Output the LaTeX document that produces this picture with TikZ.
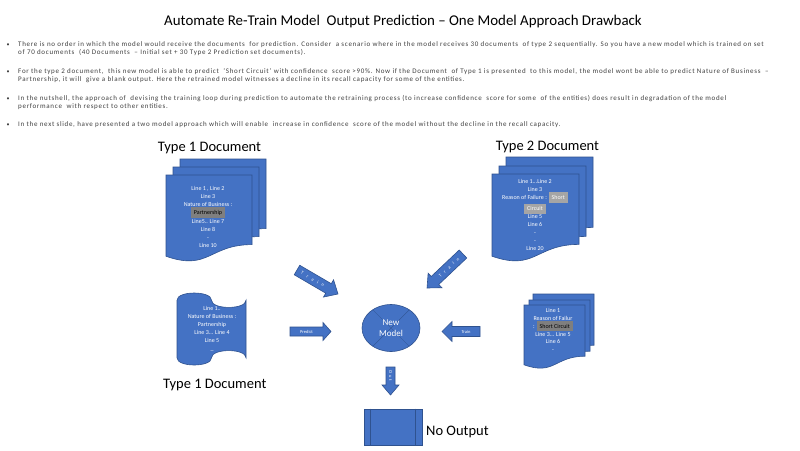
\documentclass[tikz,border=0pt]{standalone}
\usepackage{fontspec}
\setmainfont{Carlito}
\newfontfamily\bulfont[LetterSpace=10.0]{Carlito}
\newfontfamily\spacedfont[LetterSpace=45.0]{Carlito}
\newfontfamily\widefont[LetterSpace=95.0]{Carlito}
\usetikzlibrary{shapes.geometric,calc}
\definecolor{blu}{HTML}{4472C4}
\definecolor{blubord}{HTML}{2F528F}
\definecolor{txtgray}{HTML}{404040}
\definecolor{hlgray}{HTML}{A5A5A5}
\definecolor{hldark}{HTML}{7F7F7F}
\newcommand\docpage[4]{%
 \pgfmathsetmacro\dpXr{#1+#3}\pgfmathsetmacro\dpXm{#1+0.5*#3}%
 \pgfmathsetmacro\dpYr{#2+0.8*#4}\pgfmathsetmacro\dpYc{#2+1.107*#4}\pgfmathsetmacro\dpYl{#2+0.934*#4}%
 \filldraw[page] (#1,#2) -- (\dpXr,#2) -- (\dpXr,\dpYr) .. controls (\dpXm,\dpYr) and (\dpXm,\dpYc) .. (#1,\dpYl) -- cycle;}
\newcommand\tapeshape[4]{%
 \pgfmathsetmacro\tsXr{#1+#3}\pgfmathsetmacro\tsXm{#1+0.5*#3}%
 \pgfmathsetmacro\tsYt{#2+0.1*#4}\pgfmathsetmacro\tsYtu{#2+0.1*#4-0.1333*#4}\pgfmathsetmacro\tsYtd{#2+0.1*#4+0.1333*#4}%
 \pgfmathsetmacro\tsYb{#2+0.9*#4}\pgfmathsetmacro\tsYbu{#2+0.9*#4-0.1333*#4}\pgfmathsetmacro\tsYbd{#2+0.9*#4+0.1333*#4}%
 \filldraw[page] (#1,\tsYt) .. controls (#1,\tsYtu) and (\tsXm,\tsYtu) .. (\tsXm,\tsYt)
   .. controls (\tsXm,\tsYtd) and (\tsXr,\tsYtd) .. (\tsXr,\tsYt) -- (\tsXr,\tsYb)
   .. controls (\tsXr,\tsYbu) and (\tsXm,\tsYbu) .. (\tsXm,\tsYb)
   .. controls (\tsXm,\tsYbd) and (#1,\tsYbd) .. (#1,\tsYb) -- cycle;}
\newcommand\blkarrow[9]{% name, cx, cy, angle, length, shaft half, head half, head length, text
 \pgfmathsetmacro\baA{#5/2}\pgfmathsetmacro\baB{#5/2-#8}\pgfmathsetmacro\baT{-#8/2}%
 \pgfmathparse{((#4>90)&&(#4<270))?(#4-180):(#4)}\let\baR\pgfmathresult
 \begin{scope}[shift={(#2,#3)}, rotate=#4]
  \filldraw[page] (-\baA,-#6) -- (\baB,-#6) -- (\baB,-#7) -- (\baA,0) -- (\baB,#7) -- (\baB,#6) -- (-\baA,#6) -- cycle;
  \node[arrowtext, rotate=\baR] (#1) at (\baT,0) {#9};
 \end{scope}}
\begin{document}
\begin{tikzpicture}[x=1pt,y=-1pt,
  page/.style={fill=blu, draw=blubord, line width=0.6pt},
  doctext/.style={text=white, align=center, font=\fontsize{6}{7.9}\selectfont, inner sep=0},
  arrowtext/.style={text=white, font=\fontsize{4.5}{5}\selectfont, inner sep=0},
  biglabel/.style={font=\fontsize{14.5}{16}\selectfont, text=black, inner sep=0},
  bulline/.style={anchor=west, font=\bulfont\fontsize{7}{8}\selectfont, text=txtgray, inner sep=0},
  buldot/.style={font=\fontsize{6}{8}\selectfont, text=txtgray, inner sep=0}]
\fill[white] (0,0) rectangle (800,450);
\useasboundingbox (0,0) rectangle (800,450);
% title
\node[font=\fontsize{14.9}{16}\selectfont, text=black, inner sep=0] (title) at (403,22) {Automate Re-Train Model\ \ Output Prediction -- One Model Approach Drawback};
% bullets
\node[buldot] (b1) at (8,45) {•};
\node[bulline] (l1) at (18,45) {There is no order in which the model would receive the documents\ \ for prediction. Consider\ \ a scenario where in the model receives 30 documents\ \ of type 2 sequentially. So you have a new model which is trained on set};
\node[bulline] (l2) at (18,53) {of 70 documents\ \ (40 Documents\ \ – Initial set + 30 Type 2 Prediction set documents).};
\node[buldot] (b2) at (8,72) {•};
\node[bulline] (l3) at (18,72) {For the type 2 document,\ \ this new model is able to predict\ \ ‘Short Circuit’ with confidence\ \ score >90\%. Now if the Document\ \ of Type 1 is presented\ \ to this model, the model wont be able to predict Nature of Business\ \ –};
\node[bulline] (l4) at (18,80) {Partnership, it will\ \ give a blank output. Here the retrained model witnesses a decline in its recall capacity for some of the entities.};
\node[buldot] (b3) at (8,99) {•};
\node[bulline] (l5) at (18,99) {In the nutshell, the approach of\ \ devising the training loop during prediction to automate the retraining process (to increase confidence\ \ score for some\ \ of the entities) does result in degradation of the model};
\node[bulline] (l6) at (18,107) {performance\ \ with respect to other entities.};
\node[buldot] (b4) at (8,125) {•};
\node[bulline] (l7) at (18,125) {In the next slide, have presented a two model approach which will enable\ \ increase in confidence\ \ score of the model without the decline in the recall capacity.};
% Type 1 stack
\node[biglabel] (t1lab) at (209.5,148) {Type 1 Document};
\docpage{180}{159}{86}{87}
\docpage{173}{167}{86}{87}
\docpage{166}{175}{86}{87}
\node[doctext] (t1txt) at (208,217) {Line 1 , Line 2\\Line 3\\Nature of Business :\\\colorbox{hldark}{\color{black}Partnership}\\Line5.. Line 7\\Line 8\\-\\Line 10};
% Type 2 stack
\node[biglabel] (t2lab) at (547.5,147) {Type 2 Document};
\docpage{506}{157}{87}{88}
\docpage{499}{166}{87}{88}
\docpage{492}{174}{87}{88}
\node[doctext] (t2txt) at (535,215) {Line 1...Line 2\\Line 3\\Reason of Failure : \colorbox{hlgray}{Short}\\\colorbox{hlgray}{Circuit}\\Line 5\\Line 6\\-\\-\\Line 20};
% lower left tape document
\tapeshape{177}{293}{69}{72}
\node[doctext] (tapetxt) at (212,329) {Line 1..\\Nature of Business :\\Partnership\\Line 3... Line 4\\Line 5\\\_};
\node[biglabel, anchor=west] (t1lab2) at (163,385) {Type 1 Document};
% lower right stack
\docpage{533}{294}{61}{64}
\docpage{529}{300}{61}{64}
\docpage{524}{305}{61}{64}
\node[doctext] (t3txt) at (553,330) {Line 1\\Reason of Failur\\: \colorbox{hldark}{\color{black}Short Circuit}\\Line 3... Line 5\\Line 6\\-};
% model
\node[ellipse, fill=blu, draw=blubord, line width=0.6pt, minimum width=58, minimum height=47, inner sep=0] (model) at (391,328) {};
\draw[blubord, line width=0.35pt] (model.135) -- (model.-45) (model.45) -- (model.-135);
\node[text=white, align=center, font=\fontsize{9}{11}\selectfont, inner sep=0] (modeltxt) at (model.center) {New\\Model};
% block arrows
\blkarrow{predict}{310.5}{331.5}{0}{41}{4.5}{9}{8}{Predict}
\blkarrow{trainr}{461}{331.5}{180}{38}{5}{10}{10}{Train}
\blkarrow{trainl}{317.5}{282}{-30.3}{47.5}{5.5}{10}{11}{\widefont Train}
\blkarrow{train2}{445}{271}{223.4}{49.5}{5.5}{10}{11}{\widefont Train}
\blkarrow{out}{390.5}{381}{-90}{28}{4.5}{8.5}{10}{\spacedfont Out}
% no output
\node[rectangle, fill=blu, draw=blubord, line width=0.6pt, minimum width=58, minimum height=36, inner sep=0] (noout) at (393,427) {};
\draw[blubord, line width=0.6pt] ($(noout.north west)+(7,0)$) -- ($(noout.south west)+(7,0)$)
  ($(noout.north east)+(-7,0)$) -- ($(noout.south east)+(-7,0)$);
\node[biglabel, anchor=west] (nooutlab) at (426,432) {No Output};
\end{tikzpicture}
\end{document}
